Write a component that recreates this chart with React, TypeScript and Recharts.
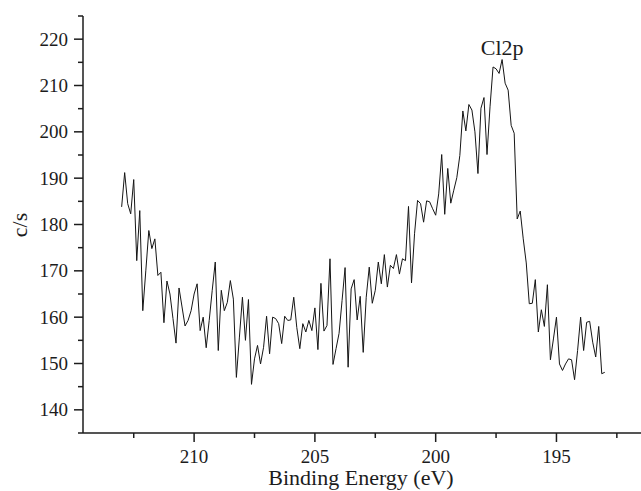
import React from "react";
import { LineChart, Line, XAxis, YAxis, ReferenceDot } from "recharts";

// XPS Cl2p region, counts per second (213 eV -> 193 eV)
const EV_START = 213;
const EV_STEP = 0.125;

const counts = [
  183.8, 191.2, 184.5, 182.3, 189.7, 172.2, 183.0, 161.4, 170.0, 178.7,
  174.8, 176.9, 169.0, 169.7, 158.8, 167.8, 165.0, 159.7, 154.4, 166.3,
  162.2, 158.1, 159.3, 161.4, 165.0, 167.2, 157.1, 160.0, 153.4, 159.3,
  165.8, 171.9, 152.8, 165.8, 161.4, 163.2, 167.9, 163.9, 147.0, 155.7,
  164.3, 155.0, 163.8, 145.5, 151.0, 153.9, 149.9, 153.5, 160.2, 152.1,
  160.0, 159.7, 158.6, 154.3, 160.2, 159.3, 159.4, 164.3, 157.8, 153.2,
  158.6, 156.8, 159.3, 157.1, 162.0, 153.0, 167.3, 157.0, 158.2, 172.6,
  149.8, 153.2, 156.5, 163.6, 170.7, 149.2, 166.1, 168.1, 159.4, 164.5,
  152.4, 164.3, 170.8, 163.0, 165.8, 171.9, 167.2, 173.5, 166.5, 171.2,
  170.5, 173.5, 169.3, 172.6, 172.2, 183.9, 167.4, 178.0, 185.2, 184.5,
  180.5, 185.1, 184.9, 183.4, 182.0, 186.6, 195.1, 182.2, 192.1, 184.6,
  187.4, 190.1, 194.9, 204.5, 200.2, 205.9, 204.7, 200.0, 191.0, 205.1,
  207.4, 195.1, 205.4, 214.0, 213.6, 212.6, 215.6, 210.5, 209.0, 201.4,
  199.7, 181.2, 182.9, 176.9, 171.7, 162.9, 163.0, 168.1, 156.8, 161.6,
  158.0, 167.0, 150.8, 155.3, 160.0, 149.9, 148.5, 149.9, 151.0, 150.8,
  146.5, 152.8, 160.0, 152.8, 158.9, 159.1, 154.6, 151.4, 158.0, 147.8,
  148.1,
];

const xTicks = [212.5, 210, 207.5, 205, 202.5, 200, 197.5, 195, 192.5];
const yTicks = [135, 140, 145, 150, 155, 160, 165, 170, 175, 180, 185, 190, 195, 200, 205, 210, 215, 220, 225];

const peakLabel = "Cl2p";

const FONT = "'Liberation Serif', 'Times New Roman', serif";
const INK = "#1c1c1c";

const data = counts.map((cps, i) => ({ ev: EV_START - i * EV_STEP, cps }));
const peakIdx = counts.indexOf(Math.max(...counts));

function XTick(props: any) {
  const { x, y, payload } = props;
  const major = payload.value % 5 === 0;
  return (
    <g>
      <line x1={x} x2={x} y1={y} y2={y + (major ? 9 : 5)} stroke={INK} strokeWidth={1.5} />
      {major && (
        <text x={x} y={y + 30} textAnchor="middle" fontFamily={FONT} fontSize={19} fill={INK}>
          {payload.value}
        </text>
      )}
    </g>
  );
}

function YTick(props: any) {
  const { x, y, payload } = props;
  const major = payload.value % 10 === 0;
  return (
    <g>
      <line x1={x} x2={x - (major ? 9 : 5)} y1={y} y2={y} stroke={INK} strokeWidth={1.5} />
      {major && (
        <text x={x - 15} y={y + 6.5} textAnchor="end" fontFamily={FONT} fontSize={19} fill={INK}>
          {payload.value}
        </text>
      )}
    </g>
  );
}

function XTitle() {
  return (
    <text x={361} y={485} textAnchor="middle" fontFamily={FONT} fontSize={22} fill={INK}>
      Binding Energy (eV)
    </text>
  );
}

function YTitle() {
  return (
    <text
      x={27}
      y={225}
      transform="rotate(-90 27 225)"
      textAnchor="middle"
      fontFamily={FONT}
      fontSize={22}
      fill={INK}
    >
      c/s
    </text>
  );
}

export default function App() {
  return (
    <div style={{ position: "absolute", left: 0, top: 0, width: 641, height: 491, background: "#fff" }}>
      <LineChart width={641} height={491} data={data} margin={{ top: 16, right: 0, bottom: 0, left: 0 }}>
        <XAxis
          type="number"
          dataKey="ev"
          domain={[191.5, 214.6]}
          reversed
          allowDataOverflow
          ticks={xTicks}
          interval={0}
          height={58}
          tickSize={0}
          tickMargin={0}
          tickLine={false}
          tick={<XTick />}
          axisLine={{ stroke: INK, strokeWidth: 1.5 }}
          label={<XTitle />}
        />
        <YAxis
          type="number"
          domain={[135, 225]}
          allowDataOverflow
          ticks={yTicks}
          interval={0}
          width={83}
          tickSize={0}
          tickMargin={0}
          tickLine={false}
          tick={<YTick />}
          axisLine={{ stroke: INK, strokeWidth: 1.5 }}
          label={<YTitle />}
        />
        <Line
          type="linear"
          dataKey="cps"
          stroke="#151515"
          strokeWidth={1}
          dot={false}
          isAnimationActive={false}
        />
        <ReferenceDot
          x={data[peakIdx].ev}
          y={counts[peakIdx]}
          r={0.5}
          fill="none"
          stroke="none"
          label={{
            content: (p: any) => {
              const vb = p.viewBox || {};
              const cx = vb.x + (vb.width || 0) / 2;
              const cy = vb.y + (vb.height || 0) / 2;
              return (
                <text x={cx} y={cy - 5} textAnchor="middle" fontFamily={FONT} fontSize={22} fill={INK}>
                  {peakLabel}
                </text>
              );
            },
          }}
        />
      </LineChart>
    </div>
  );
}
